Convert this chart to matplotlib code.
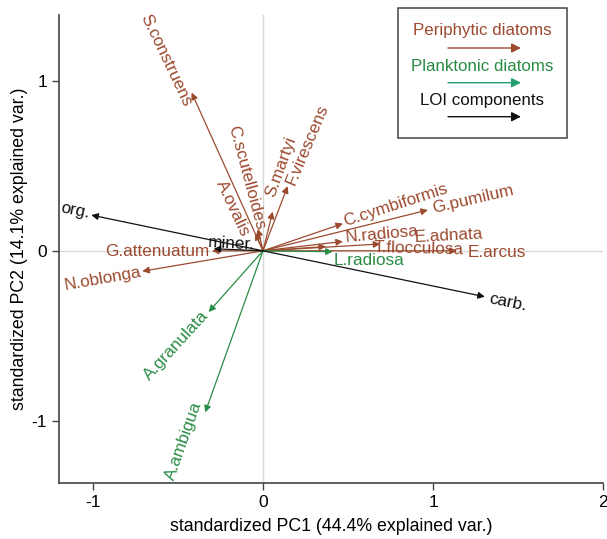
import numpy as np
import matplotlib
matplotlib.use("Agg")
import matplotlib.pyplot as plt
from matplotlib.patches import Rectangle, FancyArrowPatch

plt.rcParams.update({"font.family": ["Liberation Sans", "DejaVu Sans"], "font.size": 12,
                     "axes.unicode_minus": False})

BROWN, GREEN, BLACK = "#9C4A2F", "#2A8C45", "#111111"
AX = "#444444"

# ---- variable loadings (arrow tips) ------------------------------------------
peri_names = ["S.construens", "C.scutelloides", "A.ovalis", "S.martyi", "F.virescens",
              "C.cymbiformis", "G.pumilum", "N.radiosa", "E.adnata", "T.flocculosa",
              "E.arcus", "G.attenuatum", "N.oblonga"]
peri_x = [-0.42, -0.03, -0.045, 0.057, 0.145, 0.47, 0.97, 0.47, 0.37, 0.69, 1.14, -0.30, -0.71]
peri_y = [0.93, 0.13, 0.105, 0.23, 0.38, 0.16, 0.24, 0.055, 0.025, 0.04, 0.0, 0.0, -0.12]

plank_names = ["L.radiosa", "A.granulata", "A.ambigua"]
plank_x = [0.41, -0.32, -0.34]
plank_y = [-0.005, -0.36, -0.95]

loi_names = ["org.", "carb.", "miner."]
loi_x = [-1.01, 1.305, -0.29]
loi_y = [0.21, -0.27, 0.012]

# label centres (data units) and rotations
lab_pos = {
    "S.construens": (-0.571, 1.119, -64.5), "C.scutelloides": (-0.096, 0.431, -75),
    "A.ovalis": (-0.175, 0.249, -65), "S.martyi": (0.106, 0.494, 70),
    "F.virescens": (0.262, 0.622, 67), "C.cymbiformis": (0.781, 0.269, 18),
    "G.pumilum": (1.237, 0.303, 13), "N.radiosa": (0.698, 0.097, 5),
    "E.adnata": (1.095, 0.088, 3), "T.flocculosa": (0.914, 0.014, -1.5),
    "E.arcus": (1.375, -0.011, 0), "G.attenuatum": (-0.625, -0.006, 0),
    "N.oblonga": (-0.944, -0.162, 10), "L.radiosa": (0.625, -0.055, 0),
    "A.granulata": (-0.508, -0.555, 47.5), "A.ambigua": (-0.464, -1.114, 70.3),
    "org.": (-1.106, 0.235, -11.7), "carb.": (1.443, -0.305, -11.7),
    "miner.": (-0.184, 0.041, -3),
}

fig = plt.figure(figsize=(6.07, 5.39), dpi=100)
ax = fig.add_axes([59 / 607, 1 - 482.7 / 539, 544 / 607, 467.7 / 539])
ax.set_xlim(-1.2, 2.0)
ax.set_ylim(-1.363, 1.386)
ax.axhline(0, color="#d9d9d9", lw=1, zorder=0)
ax.axvline(0, color="#d9d9d9", lw=1, zorder=0)

def arrows(xs, ys, names, col):
    for x, y, n in zip(xs, ys, names):
        ax.annotate("", xy=(x, y), xytext=(0, 0),
                    arrowprops=dict(arrowstyle="-|>", color=col, lw=0.9, mutation_scale=10,
                                    shrinkA=0, shrinkB=0))
        lx, ly, rot = lab_pos[n]
        ax.text(lx, ly, n, color=col, rotation=rot, ha="center", va="center",
                rotation_mode="anchor", fontsize=12.3)

arrows(peri_x, peri_y, peri_names, BROWN)
arrows(plank_x, plank_y, plank_names, GREEN)
arrows(loi_x, loi_y, loi_names, BLACK)

for s in ("top", "right"):
    ax.spines[s].set_visible(False)
for s in ("left", "bottom"):
    ax.spines[s].set_color(AX); ax.spines[s].set_linewidth(1.2)
ax.set_xticks([-1, 0, 1, 2]); ax.set_yticks([-1, 0, 1])
ax.tick_params(length=5, width=1, color=AX, labelsize=12.5)
ax.set_xlabel("standardized PC1 (44.4% explained var.)", fontsize=12.8, labelpad=6)
ax.set_ylabel("standardized PC2 (14.1% explained var.)", fontsize=12.8, labelpad=3)

# ---- legend box (figure pixels) ----------------------------------------------
W, H = 607, 539
def fx(px): return px / W
def fy(py): return 1 - py / H
fig.patches.append(Rectangle((fx(397.7), fy(138.3)), fx(567.3) - fx(397.7), fy(8.3) - fy(138.3),
                             transform=fig.transFigure, fill=False, ec="#444444", lw=1.1))
leg = [("Periphytic diatoms", BROWN, BROWN, 31, 48),
       ("Planktonic diatoms", GREEN, "#22A06E", 66.7, 82.7),
       ("LOI components", BLACK, BLACK, 100, 116.7)]
for txt, tc, ac, ty, ay in leg:
    fig.text(fx(482), fy(ty), txt, color=tc, ha="center", va="center", fontsize=12.2)
    fig.patches.append(FancyArrowPatch(
        (fx(448), fy(ay)), (fx(521), fy(ay)), transform=fig.transFigure,
        arrowstyle="-|>", color=ac, lw=1.0, mutation_scale=14, shrinkA=0, shrinkB=0))

fig.savefig("out.png", dpi=100, facecolor="white")
